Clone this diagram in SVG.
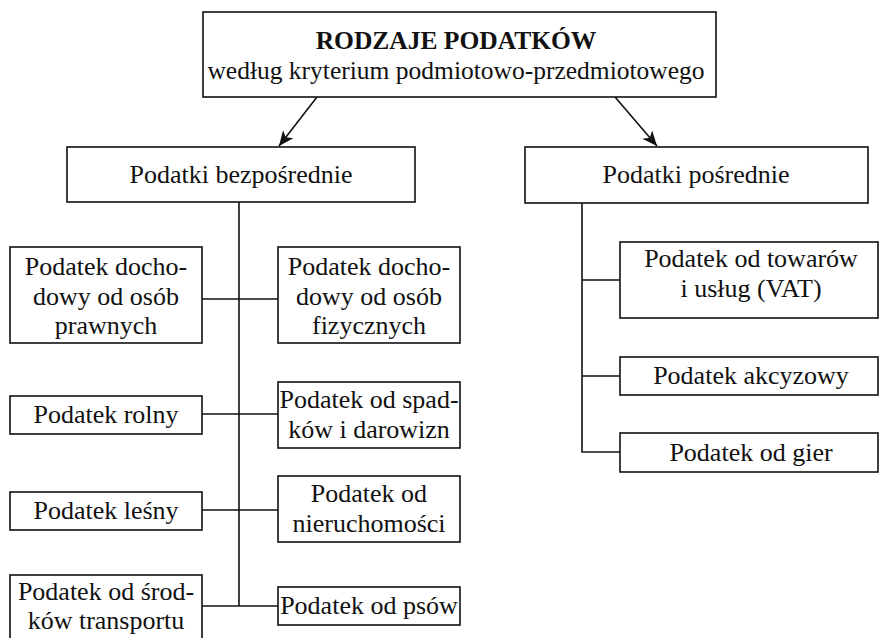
<svg xmlns="http://www.w3.org/2000/svg" width="879" height="638" viewBox="0 0 879 638">
<defs>
<style>
.box{fill:#fff;stroke:#111;stroke-width:1.6}
.t{font-family:'Liberation Serif','Times New Roman',Times,'DejaVu Serif',serif;font-size:26px;fill:#111;text-anchor:middle}
.b{font-weight:bold}
.c{fill:none;stroke:#111;stroke-width:1.6}
</style>
<marker id="arr" markerWidth="18" markerHeight="14" refX="16" refY="7" orient="auto" markerUnits="userSpaceOnUse">
<path d="M16,7 L1,0.5 L5,7 L1,13.5 Z" fill="#111"/>
</marker>
</defs>
<rect width="879" height="638" fill="#fff"/>
<g id="connectors">
<line class="c" x1="317" y1="97" x2="279" y2="146" marker-end="url(#arr)"/>
<line class="c" x1="615" y1="97" x2="657" y2="146" marker-end="url(#arr)"/>
<line class="c" x1="239" y1="202" x2="239" y2="606"/>
<line class="c" x1="202" y1="299" x2="278" y2="299"/>
<line class="c" x1="202" y1="414" x2="278" y2="414"/>
<line class="c" x1="202" y1="510" x2="278" y2="510"/>
<line class="c" x1="202" y1="606" x2="278" y2="606"/>
<polyline class="c" points="582,203 582,452 620,452"/>
<line class="c" x1="582" y1="280" x2="620" y2="280"/>
<line class="c" x1="582" y1="376" x2="620" y2="376"/>
</g>
<g font-family="Liberation Serif, Times New Roman, serif">
<g id="root">
<rect class="box" x="203" y="12" width="513" height="85"/>
<text class="t b" x="456" y="49" font-family="Liberation Serif, serif" style="font-size:25.5px">RODZAJE PODATKÓW</text>
<text class="t" x="456" y="79" font-family="Liberation Serif, serif" style="font-size:25.5px">według kryterium podmiotowo-przedmiotowego</text>
</g>
<g id="bezposrednie">
<rect class="box" x="67" y="147" width="348" height="55"/>
<text class="t" x="241" y="183">Podatki bezpośrednie</text>
</g>
<g id="posrednie">
<rect class="box" x="525" y="147" width="343" height="56"/>
<text class="t" x="696" y="183">Podatki pośrednie</text>
</g>
<g id="dochodowy-prawne">
<rect class="box" x="10" y="247" width="192" height="96"/>
<text class="t" x="106" y="275">Podatek docho-</text>
<text class="t" x="106" y="305">dowy od osób</text>
<text class="t" x="106" y="334">prawnych</text>
</g>
<g id="dochodowy-fizyczne">
<rect class="box" x="278" y="247" width="182" height="96"/>
<text class="t" x="369" y="275">Podatek docho-</text>
<text class="t" x="369" y="305">dowy od osób</text>
<text class="t" x="369" y="334">fizycznych</text>
</g>
<g id="rolny">
<rect class="box" x="10" y="396" width="192" height="38"/>
<text class="t" x="106" y="423">Podatek rolny</text>
</g>
<g id="spadki">
<rect class="box" x="278" y="382" width="182" height="66"/>
<text class="t" x="369" y="408">Podatek od spad-</text>
<text class="t" x="369" y="438">ków i darowizn</text>
</g>
<g id="lesny">
<rect class="box" x="10" y="492" width="192" height="38"/>
<text class="t" x="106" y="519">Podatek leśny</text>
</g>
<g id="nieruchomosci">
<rect class="box" x="278" y="476" width="182" height="66"/>
<text class="t" x="369" y="502">Podatek od</text>
<text class="t" x="369" y="532">nieruchomości</text>
</g>
<g id="srodki-transportu">
<rect class="box" x="10" y="575" width="192" height="66"/>
<text class="t" x="106" y="600">Podatek od środ-</text>
<text class="t" x="106" y="629">ków transportu</text>
</g>
<g id="psy">
<rect class="box" x="278" y="587" width="182" height="38"/>
<text class="t" x="369" y="614">Podatek od psów</text>
</g>
<g id="vat">
<rect class="box" x="620" y="242" width="258" height="76"/>
<text class="t" x="751" y="267">Podatek od towarów</text>
<text class="t" x="751" y="297">i usług (VAT)</text>
</g>
<g id="akcyzowy">
<rect class="box" x="620" y="357" width="258" height="38"/>
<text class="t" x="751" y="384">Podatek akcyzowy</text>
</g>
<g id="gry">
<rect class="box" x="620" y="433" width="258" height="39"/>
<text class="t" x="751" y="461">Podatek od gier</text>
</g>
</g>
</svg>
